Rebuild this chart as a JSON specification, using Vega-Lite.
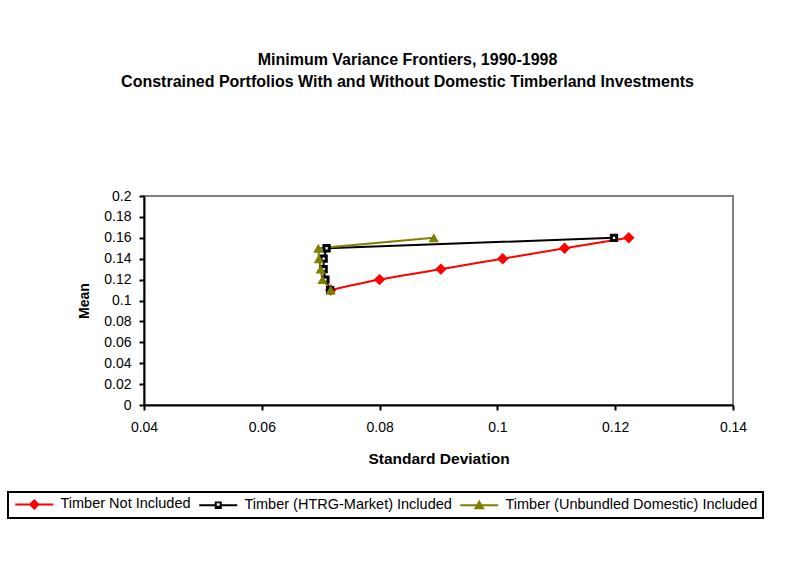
{
  "$schema": "https://vega.github.io/schema/vega-lite/v6.json",
  "width": 589,
  "height": 209,
  "autosize": {"type": "none"},
  "padding": {"left": 144, "top": 196, "right": 59, "bottom": 176},
  "background": "white",
  "config": {
    "font": "Liberation Sans",
    "view": {"stroke": "#808080", "strokeWidth": 2},
    "axis": {"labelFont": "Liberation Sans", "titleFont": "Liberation Sans", "labelColor": "black", "titleColor": "black", "domainColor": "black", "tickColor": "black", "grid": false},
    "legend": {"strokeWidth": 2}
  },
  "title": {
    "text": ["Minimum Variance Frontiers, 1990-1998", "Constrained Portfolios With and Without Domestic Timberland Investments"],
    "font": "Liberation Sans",
    "fontSize": 16,
    "fontWeight": "bold",
    "color": "black",
    "anchor": "middle",
    "dx": -31,
    "offset": 99,
    "lineHeight": 22
  },
  "data": {
    "values": [
      {"series": "Timber Not Included", "ord": 1, "sd": 0.0717, "mean": 0.11},
      {"series": "Timber Not Included", "ord": 2, "sd": 0.0800, "mean": 0.12},
      {"series": "Timber Not Included", "ord": 3, "sd": 0.0904, "mean": 0.13},
      {"series": "Timber Not Included", "ord": 4, "sd": 0.1009, "mean": 0.14},
      {"series": "Timber Not Included", "ord": 5, "sd": 0.1114, "mean": 0.15},
      {"series": "Timber Not Included", "ord": 6, "sd": 0.1223, "mean": 0.16},
      {"series": "Timber (HTRG-Market) Included", "ord": 1, "sd": 0.0716, "mean": 0.11},
      {"series": "Timber (HTRG-Market) Included", "ord": 2, "sd": 0.0708, "mean": 0.12},
      {"series": "Timber (HTRG-Market) Included", "ord": 3, "sd": 0.0705, "mean": 0.13},
      {"series": "Timber (HTRG-Market) Included", "ord": 4, "sd": 0.0705, "mean": 0.14},
      {"series": "Timber (HTRG-Market) Included", "ord": 5, "sd": 0.0710, "mean": 0.15},
      {"series": "Timber (HTRG-Market) Included", "ord": 6, "sd": 0.1198, "mean": 0.16},
      {"series": "Timber (Unbundled Domestic) Included", "ord": 1, "sd": 0.0717, "mean": 0.11},
      {"series": "Timber (Unbundled Domestic) Included", "ord": 2, "sd": 0.0703, "mean": 0.12},
      {"series": "Timber (Unbundled Domestic) Included", "ord": 3, "sd": 0.0700, "mean": 0.13},
      {"series": "Timber (Unbundled Domestic) Included", "ord": 4, "sd": 0.0697, "mean": 0.14},
      {"series": "Timber (Unbundled Domestic) Included", "ord": 5, "sd": 0.0696, "mean": 0.15},
      {"series": "Timber (Unbundled Domestic) Included", "ord": 6, "sd": 0.0892, "mean": 0.16}
    ]
  },
  "encoding": {
    "x": {
      "field": "sd", "type": "quantitative", "title": "Standard Deviation",
      "scale": {"domain": [0.04, 0.14], "nice": false, "zero": false},
      "axis": {"values": [0.04, 0.06, 0.08, 0.1, 0.12, 0.14], "format": "~g", "labelFontSize": 14, "titleFontSize": 15.5, "titleFontWeight": "bold", "domainWidth": 2, "tickWidth": 2, "tickSize": 5, "labelPadding": 10, "titlePadding": 17, "zindex": 1, "labelFlush": false}
    },
    "y": {
      "field": "mean", "type": "quantitative", "title": "Mean",
      "scale": {"domain": [0, 0.2], "nice": false},
      "axis": {"values": [0, 0.02, 0.04, 0.06, 0.08, 0.1, 0.12, 0.14, 0.16, 0.18, 0.2], "format": "~g", "labelFontSize": 14, "titleFontSize": 14, "titleFontWeight": "bold", "domainWidth": 2, "tickWidth": 2, "tickSize": 5, "labelPadding": 8, "titlePadding": 12, "zindex": 1, "labelFlush": false}
    },
    "order": {"field": "ord", "type": "quantitative"}
  },
  "layer": [
    {
      "transform": [{"filter": "datum.series === 'Timber Not Included'"}],
      "mark": {"type": "line", "strokeWidth": 2, "interpolate": "monotone", "color": "#FF0000"}
    },
    {
      "transform": [{"filter": "datum.series === 'Timber (HTRG-Market) Included'"}],
      "mark": {"type": "line", "strokeWidth": 2, "color": "#000000"}
    },
    {
      "transform": [{"filter": "datum.series === 'Timber (Unbundled Domestic) Included'"}],
      "mark": {"type": "line", "strokeWidth": 2, "color": "#808000"}
    },
    {
      "transform": [{"filter": "datum.series === 'Timber Not Included'"}],
      "mark": {"type": "point", "shape": "diamond", "filled": true, "color": "#FF0000", "opacity": 1, "size": 130}
    },
    {
      "transform": [{"filter": "datum.series === 'Timber (HTRG-Market) Included'"}],
      "mark": {"type": "point", "shape": "square", "filled": true, "fill": "white", "stroke": "black", "opacity": 1, "strokeWidth": 3, "size": 28}
    },
    {
      "transform": [{"filter": "datum.series === 'Timber (Unbundled Domestic) Included'"}],
      "mark": {"type": "point", "shape": "triangle-up", "filled": true, "color": "#808000", "opacity": 1, "size": 105}
    },
    {
      "mark": {"type": "point", "filled": true, "opacity": 0, "size": 100},
      "encoding": {
        "color": {
          "field": "series", "type": "nominal",
          "scale": {"domain": ["Timber Not Included", "Timber (HTRG-Market) Included", "Timber (Unbundled Domestic) Included"], "range": ["#FF0000", "#000000", "#808000"]},
          "legend": {
            "title": null,
            "orient": "none",
            "direction": "horizontal",
            "legendX": -136,
            "legendY": 296,
            "padding": 5,
            "strokeColor": "black",
            "labelFont": "Liberation Sans",
            "labelFontSize": 14.5,
            "labelColor": "black",
            "labelOffset": 33,
            "columnPadding": 5,
            "symbolSize": 100,
            "symbolOpacity": 1,
            "labelLimit": 400
          }
        },
        "shape": {
          "field": "series", "type": "nominal",
          "scale": {"domain": ["Timber Not Included", "Timber (HTRG-Market) Included", "Timber (Unbundled Domestic) Included"], "range": [
            "M-1,-0.2H6.6V0.2H-1Z M2.8,-1.1L3.9,0L2.8,1.1L1.7,0Z",
            "M-1,-0.2H2.1V0.2H-1Z M3.5,-0.2H6.6V0.2H3.5Z M2.1,-0.75H3.5V0.75H2.1Z M2.5,-0.4V0.1H3.1V-0.4Z",
            "M-1,-0.2H6.6V0.2H-1Z M2.8,-1.1L3.9,0.8L1.7,0.8Z"
          ]},
          "legend": {
            "title": null,
            "orient": "none",
            "direction": "horizontal",
            "legendX": -136,
            "legendY": 296,
            "padding": 5,
            "strokeColor": "black",
            "labelFont": "Liberation Sans",
            "labelFontSize": 14.5,
            "labelColor": "black",
            "labelOffset": 33,
            "columnPadding": 5,
            "symbolSize": 100,
            "symbolOpacity": 1,
            "labelLimit": 400
          }
        }
      }
    }
  ]
}
